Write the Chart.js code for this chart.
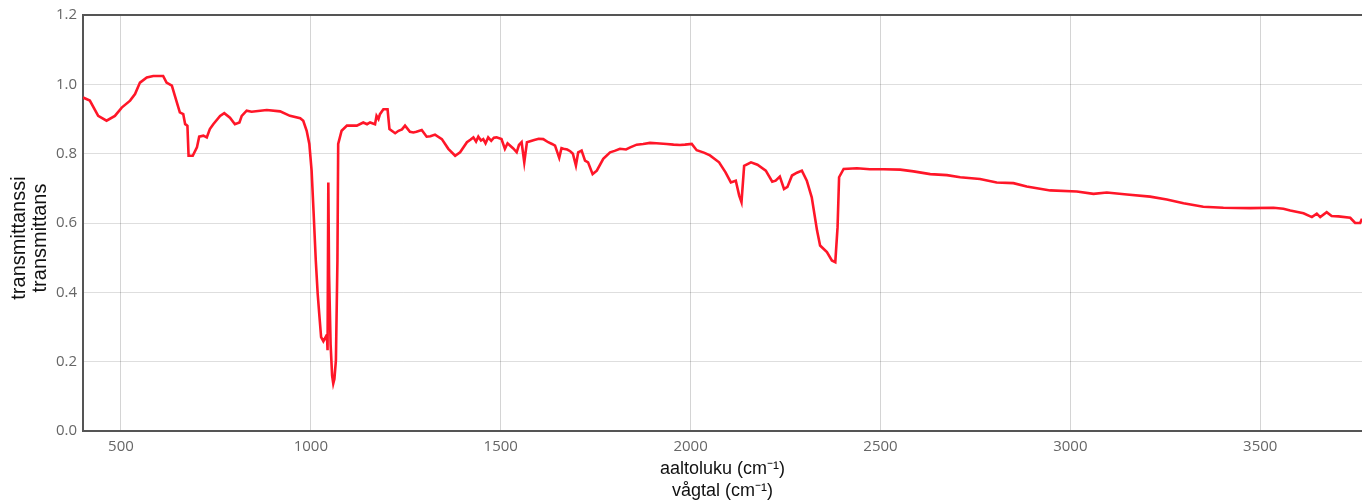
<!DOCTYPE html>
<html>
<head>
<meta charset="utf-8">
<script src="https://cdn.jsdelivr.net/npm/chart.js@4/dist/chart.umd.min.js"></script>
<style>
html,body{margin:0;padding:0;background:#fff;}
#wrap{width:1362px;height:500px;}
</style>
</head>
<body>
<div id="wrap"><canvas id="c" width="1362" height="500"></canvas></div>
<script>
// wavenumber (cm-1)
const wavenumbers = [
400,418,440,462,484,502,524,537,550,568,585,611,620,634,642,655,664,669,672,675,678,689,700,706,717,726,734,743,761,772,787,800,812,818,831,844,884,919,945,972,980,989,996,
1002,1007,1013,1018,1022,1027,1033,1040,1043,1044,1046,1048,1052,1056,1059,1062,1066,1070,1072,1081,1095,1121,1138,1148,1156,1169,1173,1178,1182,1191,1202,1207,1222,1231,1240,1248,1261,1270,1278,1292,1305,1315,1327,1345,1362,1380,1393,
1411,1420,1428,1435,1441,1448,1454,1460,1467,1475,1482,1489,1502,1511,1518,1525,1533,1542,1548,1555,1562,1569,1586,1600,1612,1625,1635,1643,1654,1660,1665,1675,1683,1690,1698,1704,1713,1722,1730,1742,1753,1770,1788,1800,1814,1830,1841,1858,1875,1893,1910,1937,1955,1972,1985,
2003,2016,2035,2051,2075,2092,2106,2119,2128,2134,2141,2159,2176,2198,2215,2224,2235,2246,2255,2267,2280,2293,2306,2319,2333,2341,2359,2372,2381,2387,2391,2403,2438,2472,2508,2552,2587,2631,2675,2710,2762,2806,2850,2885,2947,
3017,3061,3096,3149,3210,3254,3298,3350,3403,3474,3535,3561,3579,3614,3636,3649,3658,3675,3688,3706,3737,3750,3763,3768
];
// transmittance
const transmittance = [
0.962,0.953,0.909,0.895,0.909,0.933,0.953,0.972,1.005,1.020,1.024,1.024,1.005,0.996,0.967,0.919,0.914,0.885,0.883,0.880,0.794,0.794,0.818,0.849,0.852,0.847,0.871,0.885,0.909,0.917,0.904,0.885,0.890,0.909,0.924,0.921,0.926,0.922,0.909,0.902,0.895,0.866,0.828,
0.751,0.636,0.492,0.396,0.339,0.271,0.259,0.273,0.260,0.233,0.717,0.450,0.250,0.160,0.137,0.150,0.204,0.492,0.828,0.866,0.881,0.881,0.890,0.885,0.890,0.885,0.909,0.900,0.914,0.928,0.928,0.871,0.859,0.866,0.870,0.881,0.863,0.861,0.863,0.868,0.849,0.850,0.855,0.842,0.814,0.794,0.804,
0.833,0.840,0.847,0.835,0.849,0.838,0.842,0.830,0.847,0.837,0.846,0.847,0.842,0.814,0.830,0.823,0.815,0.804,0.825,0.833,0.775,0.833,0.839,0.843,0.842,0.833,0.828,0.823,0.788,0.816,0.814,0.812,0.807,0.800,0.766,0.804,0.809,0.780,0.775,0.741,0.751,0.785,0.804,0.808,0.814,0.812,0.818,0.826,0.828,0.831,0.830,0.828,0.826,0.825,0.826,
0.828,0.810,0.803,0.795,0.775,0.746,0.717,0.722,0.679,0.660,0.765,0.775,0.768,0.751,0.719,0.722,0.734,0.698,0.704,0.737,0.745,0.751,0.722,0.674,0.578,0.535,0.516,0.492,0.487,0.588,0.732,0.756,0.758,0.755,0.755,0.754,0.749,0.741,0.738,0.732,0.727,0.717,0.715,0.705,0.694,
0.691,0.684,0.688,0.682,0.676,0.668,0.657,0.647,0.644,0.643,0.644,0.641,0.636,0.628,0.617,0.627,0.617,0.631,0.620,0.619,0.615,0.600,0.600,0.612
];
const xTicks = [500,1000,1500,2000,2500,3000,3500];
const yTicks = [0,0.2,0.4,0.6,0.8,1.0,1.2];
const xTitle = ['aaltoluku (cm\u207B\u00B9)','vågtal (cm\u207B\u00B9)'];
const yTitle = ['transmittanssi','transmittans'];

const points = wavenumbers.map((w,i)=>({x:w,y:transmittance[i]}));

const frame = {
  id:'frame',
  afterDraw(chart){
    const {ctx, chartArea:a} = chart;
    ctx.save();
    ctx.strokeStyle='#555';
    ctx.lineWidth=2;
    ctx.beginPath();
    ctx.moveTo(a.left-1, a.top);
    ctx.lineTo(a.right, a.top);
    ctx.stroke();
    // y axis title (two lines, rotated)
    ctx.fillStyle='#111';
    ctx.font='20px "Liberation Sans", Arial, sans-serif';
    ctx.textAlign='center';
    ctx.textBaseline='middle';
    const cy = 238;
    const xs = [19, 40];
    yTitle.forEach((t,i)=>{
      ctx.save();
      ctx.translate(xs[i], cy);
      ctx.rotate(-Math.PI/2);
      ctx.fillText(t, 0, 0);
      ctx.restore();
    });
    ctx.restore();
  }
};

new Chart(document.getElementById('c'), {
  type:'line',
  data:{datasets:[{
    data:points,
    borderColor:'rgb(255,22,40)',
    borderWidth:2.6,
    pointRadius:0,
    tension:0,
    fill:false
  }]},
  options:{
    responsive:false,
    animation:false,
    layout:{padding:{top:14,right:0,bottom:0,left:0}},
    plugins:{legend:{display:false},tooltip:{enabled:false}},
    scales:{
      x:{
        type:'linear',
        min:400,max:3768,
        afterFit(s){ s.height = 69; },
        afterBuildTicks(s){ s.ticks = xTicks.map(v=>({value:v})); },
        grid:{color:'rgba(0,0,0,0.17)',lineWidth:1,drawTicks:false},
        border:{display:true,color:'#555',width:2},
        ticks:{padding:7,font:{family:'Open Sans',size:15},color:'#666',maxRotation:0,callback:v=>String(v)},
        title:{display:true,text:xTitle,font:{family:'Liberation Sans',size:18,lineHeight:1.22},color:'#111',padding:{top:0,bottom:-2}}
      },
      y:{
        min:0,max:1.2,
        afterFit(s){ s.width = 83; },
        afterBuildTicks(s){ s.ticks = yTicks.map(v=>({value:v})); },
        grid:{color:'rgba(0,0,0,0.13)',lineWidth:1,drawTicks:false},
        border:{display:true,color:'#555',width:2},
        ticks:{padding:6,font:{family:'Open Sans',size:15},color:'#666',callback:v=>Number(v).toFixed(1)},
        title:{display:false,text:yTitle}
      }
    }
  },
  plugins:[frame]
});
</script>
</body>
</html>
